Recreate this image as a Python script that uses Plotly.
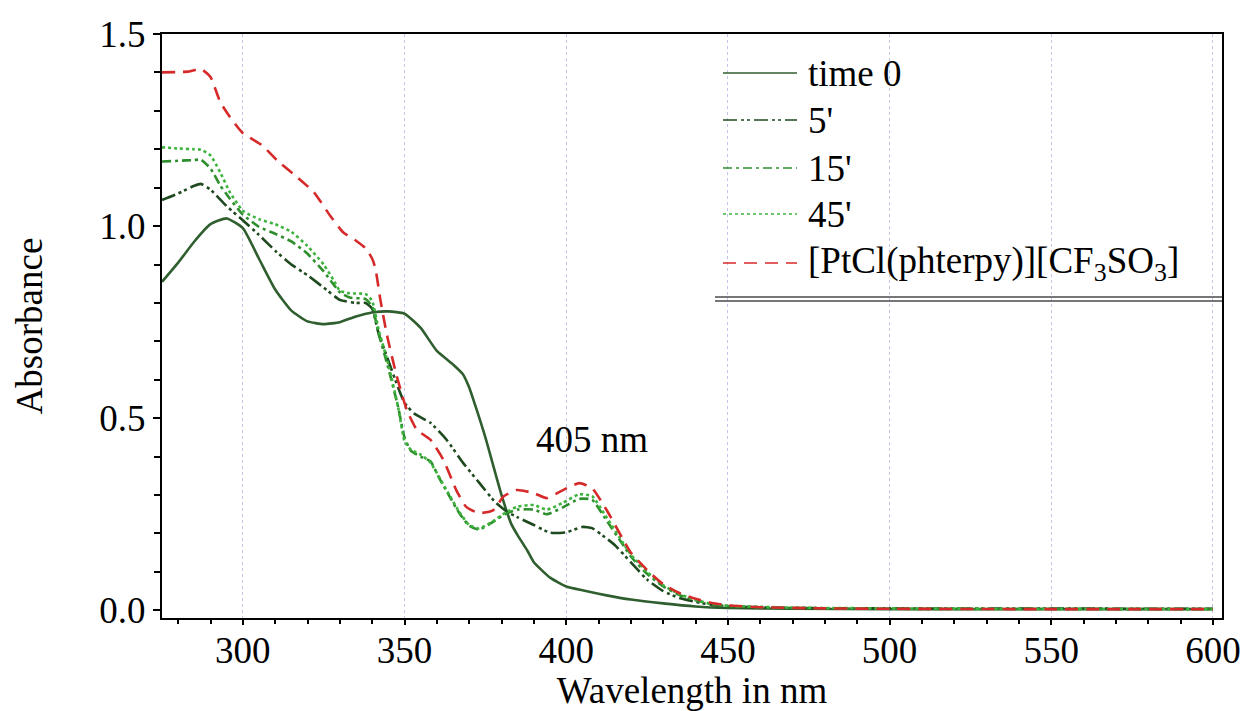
import plotly.graph_objects as go

# ---------------- data ----------------
wl_t0 = [275, 280, 285, 290, 295, 300, 305, 310, 315, 320, 325, 330, 335, 340, 345, 350,
         355, 360, 365, 368, 370, 372, 375, 380, 383, 385, 388, 390, 395, 400, 405, 410,
         415, 420, 430, 440, 450, 470, 500, 550, 600]
abs_t0 = [0.855, 0.905, 0.960, 1.005, 1.020, 0.995, 0.915, 0.835, 0.780, 0.752, 0.745, 0.750,
          0.765, 0.775, 0.778, 0.772, 0.735, 0.675, 0.640, 0.615, 0.580, 0.530, 0.450, 0.300,
          0.225, 0.195, 0.155, 0.125, 0.085, 0.062, 0.052, 0.043, 0.035, 0.028, 0.018, 0.010,
          0.006, 0.004, 0.003, 0.003, 0.003]

wl_5 = [275, 280, 285, 287, 290, 295, 300, 305, 310, 315, 320, 325, 330, 335, 338, 340, 342,
        345, 348, 350, 353, 358, 363, 368, 373, 378, 382, 385, 390, 395, 400, 405, 408, 412,
        415, 420, 425, 430, 435, 440, 445, 450, 470, 500, 600]
abs_5 = [1.068, 1.085, 1.105, 1.110, 1.095, 1.052, 1.015, 0.977, 0.936, 0.900, 0.872, 0.840,
         0.808, 0.800, 0.800, 0.785, 0.720, 0.650, 0.580, 0.540, 0.512, 0.488, 0.444, 0.385,
         0.333, 0.282, 0.255, 0.242, 0.222, 0.202, 0.203, 0.217, 0.214, 0.190, 0.170, 0.125,
         0.080, 0.050, 0.032, 0.022, 0.014, 0.010, 0.006, 0.005, 0.004]

wl_15 = [275, 280, 285, 287, 290, 293, 296, 300, 305, 310, 315, 320, 325, 330, 333, 338, 340,
         342, 345, 348, 350, 352, 355, 358, 361, 364, 367, 370, 373, 377, 381, 385, 390, 394,
         399, 404, 408, 412, 418, 420, 425, 430, 435, 440, 445, 450, 470, 500, 600]
abs_15 = [1.168, 1.170, 1.172, 1.173, 1.150, 1.106, 1.071, 1.030, 0.998, 0.980, 0.960, 0.928,
          0.882, 0.828, 0.814, 0.810, 0.790, 0.720, 0.630, 0.530, 0.450, 0.415, 0.400, 0.388,
          0.340, 0.295, 0.252, 0.220, 0.210, 0.228, 0.250, 0.262, 0.262, 0.250, 0.268, 0.290,
          0.288, 0.240, 0.165, 0.140, 0.095, 0.062, 0.040, 0.026, 0.016, 0.011, 0.006, 0.004,
          0.003]

wl_45 = [275, 280, 285, 287, 290, 293, 296, 300, 305, 310, 315, 320, 325, 328, 330, 333, 338,
         340, 342, 345, 348, 350, 352, 355, 358, 361, 364, 367, 370, 373, 377, 381, 385, 390,
         394, 399, 404, 408, 412, 418, 420, 425, 430, 435, 440, 445, 450, 470, 500, 600]
abs_45 = [1.205, 1.202, 1.200, 1.199, 1.184, 1.140, 1.088, 1.040, 1.018, 1.005, 0.985, 0.948,
          0.900, 0.860, 0.832, 0.825, 0.823, 0.805, 0.730, 0.640, 0.530, 0.440, 0.418, 0.405,
          0.385, 0.342, 0.298, 0.255, 0.222, 0.213, 0.230, 0.253, 0.270, 0.274, 0.262, 0.280,
          0.302, 0.297, 0.248, 0.170, 0.145, 0.100, 0.065, 0.042, 0.027, 0.017, 0.012, 0.007,
          0.005, 0.003]

wl_pt = [275, 280, 283, 287, 290, 293, 296, 300, 306, 311, 316, 322, 327, 331, 335, 338, 340,
         341, 342.5, 344.6, 347.6, 350.7, 353.8, 358, 362, 366, 369, 373, 377.5, 380.6, 384.7,
         390, 394, 399, 404, 408, 412.5, 417.7, 420, 425, 430, 435, 440, 445, 450, 460, 480,
         500, 550, 600]
abs_pt = [1.400, 1.401, 1.402, 1.409, 1.388, 1.323, 1.284, 1.242, 1.210, 1.168, 1.133, 1.088,
          1.027, 0.984, 0.962, 0.942, 0.915, 0.890, 0.810, 0.715, 0.609, 0.522, 0.470, 0.444,
          0.392, 0.313, 0.270, 0.253, 0.261, 0.296, 0.313, 0.305, 0.292, 0.313, 0.331, 0.318,
          0.261, 0.183, 0.150, 0.105, 0.068, 0.045, 0.030, 0.019, 0.013, 0.008, 0.005, 0.004,
          0.003, 0.003]

series_names = ["time 0", "5'", "15'", "45'", "[PtCl(phterpy)][CF<sub>3</sub>SO<sub>3</sub>]"]
x_ticks = [300, 350, 400, 450, 500, 550, 600]
y_ticks = [0.0, 0.5, 1.0, 1.5]
y_ticktext = ["0.0", "0.5", "1.0", "1.5"]

# ---------------- styles ----------------
colors = ["#2f5e2f", "#1f4a1f", "#2e8e2e", "#3cb43c", "#d62a2a"]
dashes = ["solid", "14px,4px,3px,3px,3px,4px", "9px,4px,3px,4px", "3px,3px", "13px,8px"]
FONT = "Liberation Serif"
FS = 37

fig = go.Figure()
data = [(wl_t0, abs_t0), (wl_5, abs_5), (wl_15, abs_15), (wl_45, abs_45), (wl_pt, abs_pt)]
for (wx, wy), name, c, d in zip(data, series_names, colors, dashes):
    fig.add_trace(go.Scatter(x=wx, y=wy, mode="lines", name=name, showlegend=False,
                             line=dict(color=c, width=2.6, dash=d, shape="spline", smoothing=0.5)))

# plot-area geometry in pixels (for the hand-drawn legend box)
W, H = 1248, 711
ML, MR, MT, MB = 162, 26, 34, 93
PW, PH = W - ML - MR, H - MT - MB

def px(xp):
    return (xp - ML) / PW

def py(yp):
    return (H - MB - yp) / PH

legend_y = [73, 120, 168, 214, 263]
shapes = []
annotations = []
for yy, name, c, d in zip(legend_y, series_names, colors, dashes):
    shapes.append(dict(type="line", xref="paper", yref="paper", x0=px(723), x1=px(797),
                       y0=py(yy), y1=py(yy), line=dict(color=c, width=1.6, dash=d)))
    annotations.append(dict(xref="paper", yref="paper", x=px(806), y=py(yy), text=name,
                            showarrow=False, xanchor="left", yanchor="middle",
                            font=dict(family=FONT, size=FS, color="black")))
for yy in (297, 301):
    shapes.append(dict(type="line", xref="paper", yref="paper", x0=px(715), x1=1.0,
                       y0=py(yy), y1=py(yy), line=dict(color="#4a4a4a", width=1.5)))

annotations.append(dict(x=408, y=0.445, xref="x", yref="y", text="405 nm", showarrow=False,
                        font=dict(family=FONT, size=FS, color="black")))

fig.update_layout(
    width=W, height=H,
    margin=dict(l=ML, r=MR, t=MT, b=MB, autoexpand=False),
    paper_bgcolor="white", plot_bgcolor="white",
    font=dict(family=FONT, size=FS, color="black"),
    shapes=shapes, annotations=annotations,
    xaxis=dict(range=[275, 602.8], tickvals=x_ticks, showline=True, linecolor="black",
               linewidth=2, mirror=True, ticks="outside", ticklen=5, tickwidth=2,
               tickcolor="black", showgrid=True, gridcolor="#c4c4e6", griddash="dot",
               gridwidth=1, zeroline=False, automargin=False, ticklabelstandoff=-6,
               minor=dict(tick0=270, dtick=10, ticks="outside", ticklen=4, tickwidth=1.5,
                          tickcolor="black", showgrid=False),
               title=dict(text="Wavelength in nm", standoff=0,
                          font=dict(family=FONT, size=FS))),
    yaxis=dict(range=[-0.02, 1.5], tickvals=y_ticks, ticktext=y_ticktext, showline=True,
               linecolor="black", linewidth=2, mirror=True, ticks="outside", ticklen=7,
               tickwidth=2, tickcolor="black", showgrid=False, zeroline=False,
               automargin=False,
               minor=dict(tick0=0, dtick=0.1, ticks="outside", ticklen=6, tickwidth=1.5,
                          tickcolor="black", showgrid=False),
               title=dict(text="Absorbance", standoff=45, font=dict(family=FONT, size=FS))),
)

fig.write_html(
    "out.html",
    config={"displayModeBar": False},
    post_script="document.body.style.margin='0';document.body.style.overflow='hidden';",
)
